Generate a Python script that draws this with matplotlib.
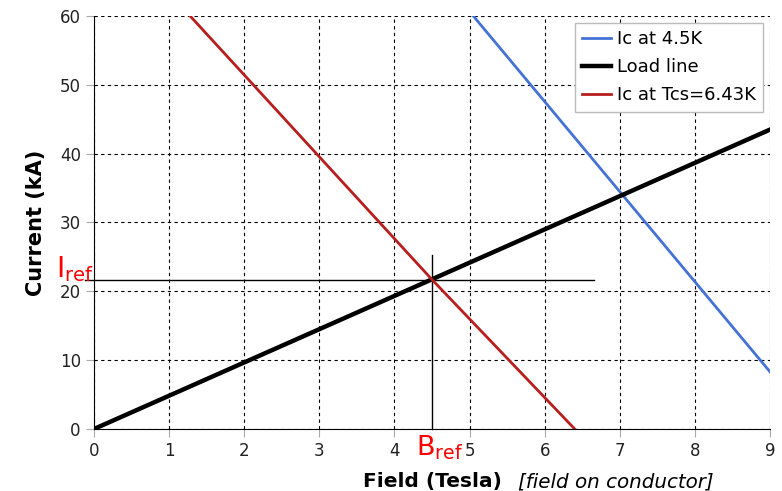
import matplotlib.pyplot as plt

# data
ic45_x = [5.05, 9.0]
ic45_y = [60.0, 8.3]
load_x = [0.0, 9.0]
load_y = [0.0, 43.5]
ictcs_x = [1.28, 4.5, 6.4]
ictcs_y = [60.0, 21.7, 0.0]

b_ref = 4.5
i_ref = 21.7

fig = plt.figure(figsize=(7.82, 4.91), dpi=100)
ax = fig.add_axes([0.1202, 0.1263, 0.8645, 0.8411])

ax.plot(ic45_x, ic45_y, color="#4472d6", lw=2, label="Ic at 4.5K")
ax.plot(load_x, load_y, color="black", lw=3.2, label="Load line")
ax.plot(ictcs_x, ictcs_y, color="#b81e1e", lw=2, label="Ic at Tcs=6.43K")

# reference cross
ax.plot([-0.12, 6.66], [i_ref, i_ref], color="black", lw=1, clip_on=False, zorder=1)
ax.plot([b_ref, b_ref], [0, 25.3], color="black", lw=1, clip_on=False, zorder=1)

ax.set_xlim(0, 9)
ax.set_ylim(0, 60)
ax.set_xticks(range(0, 10))
ax.set_yticks(range(0, 61, 10))
ax.grid(True, color="black", ls=(0, (3, 3)), lw=0.8)
ax.spines["top"].set_visible(False)
ax.spines["right"].set_visible(False)
ax.tick_params(labelsize=12, labelcolor="#222222", length=6, color="#aaaaaa")

ax.text(4.29, -0.6, r"$\mathregular{B_{ref}}$", color="red", fontsize=19.5,
        ha="left", va="top")
ax.text(-0.25, i_ref - 0.6, r"$\mathregular{I_{ref}}$", color="red", fontsize=20,
        ha="center", va="bottom")

fig.text(0.553, 0.008, "Field (Tesla)", fontsize=14.5, fontweight="bold", ha="center")
fig.text(0.662, 0.008, "[field on conductor]", fontsize=14.3, style="italic", ha="left")
ax.set_ylabel("Current (kA)", fontsize=15, fontweight="bold", labelpad=10)

leg = ax.legend(loc="upper right", fontsize=13, fancybox=False, framealpha=1,
                edgecolor="#bbbbbb", handlelength=1.6, handletextpad=0.3,
                labelspacing=0.55, borderaxespad=0.4)

fig.savefig("out.png", dpi=100)
